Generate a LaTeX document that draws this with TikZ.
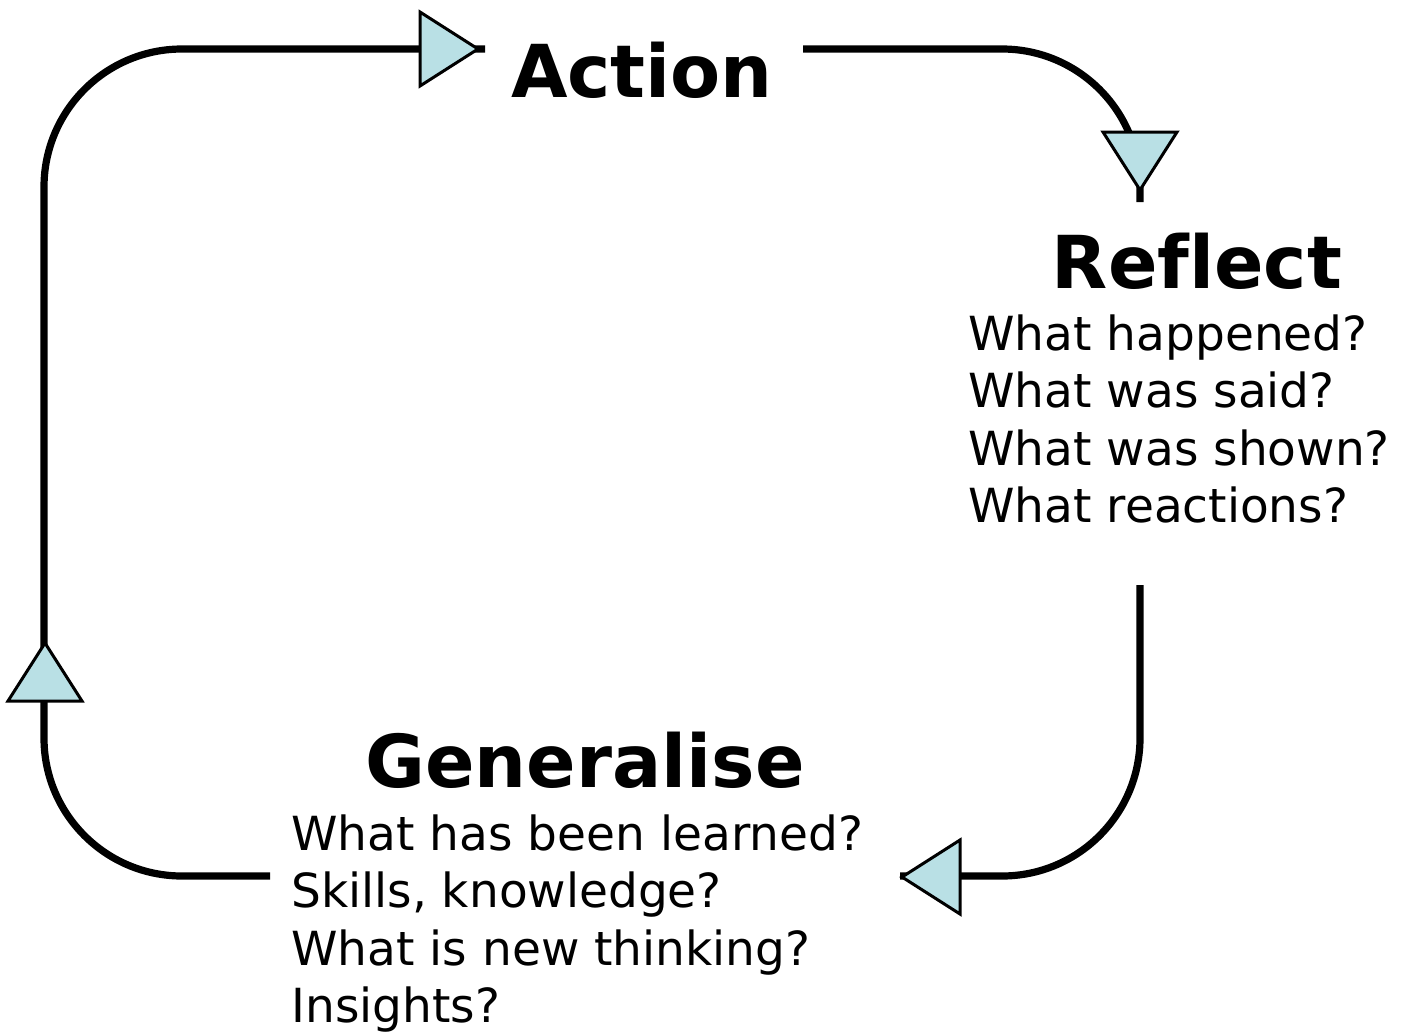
\documentclass[tikz,border=0pt]{standalone}
\usepackage{fontspec}
\setmainfont{DejaVu Sans}[Ligatures=NoCommon]

\definecolor{pointerblue}{RGB}{185,224,229}

\tikzset{
    loopline/.style={line width=3.6pt, rounded corners=69pt},
    pointer/.style={draw=black, fill=pointerblue, line width=1.5pt, line join=miter},
    stage/.style={font=\fontsize{36.5}{44}\selectfont\bfseries, inner sep=0pt, anchor=base},
    questions/.style={font=\fontsize{23.5}{28.75}\selectfont, align=left, inner sep=0pt, anchor=north west},
}

% triangle pointer: tip at #1, turned by #2
\newcommand{\drawpointer}[2]{%
    \draw[pointer, shift={#1}, rotate=#2] (0,0) -- (-58,37) -- (-58,-37) -- cycle;}

\begin{document}
\begin{tikzpicture}[line cap=butt, line join=round, x=0.5pt, y=-0.5pt]

                \useasboundingbox (0,0) rectangle (1416,1033);

                \node[stage] (action) at (642,97) {Action};
                \node[stage] (reflect) at (1197,288) {Reflect};
                \node[stage] (general) at (585,787) {Generalise};

                \node[questions] (reflectq) at (968,314) {What happened?\\What was said?\\What was shown?\\What reactions?};
                \node[questions] (generalq) at (291,814) {What has been learned?\\Skills, knowledge?\\What is new thinking?\\Insights?};

                \coordinate (actout) at (803,49);
                \coordinate (reflin) at (1140,202);
                \coordinate (reflout) at (1140,585);
                \coordinate (genin) at (900,876);
                \coordinate (genout) at (270,876);
                \coordinate (actin) at (485,49);

                \draw[loopline] (actout) -- (1140,49) -- (reflin);
                \draw[loopline] (reflout) -- (1140,876) -- (genin);
                \draw[loopline] (genout) -- (44,876) -- (44,49) -- (actin);

                \drawpointer{(478,49)}{0}
                \drawpointer{(1140,190)}{-90}
                \drawpointer{(902,877)}{180}
                \drawpointer{(45,643)}{90}

\end{tikzpicture}
\end{document}
